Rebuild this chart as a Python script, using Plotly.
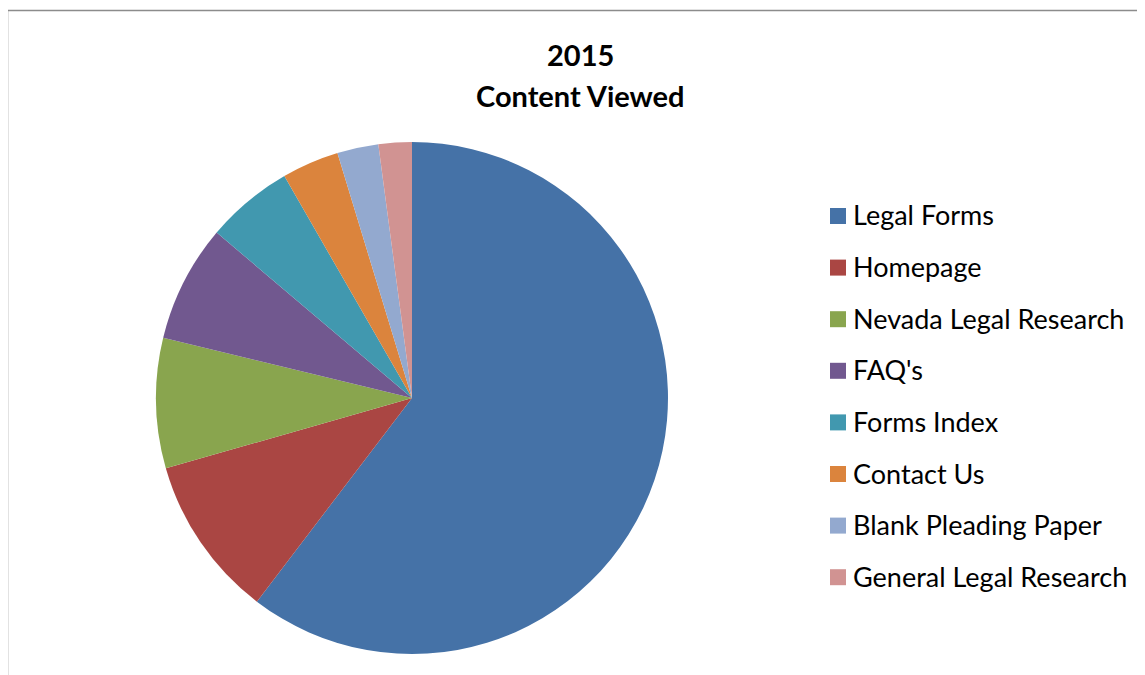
import plotly.graph_objects as go

W, H = 1145, 675
OFF = 8  # page body margin offset

categories = ["Legal Forms", "Homepage", "Nevada Legal Research", "FAQ's",
              "Forms Index", "Contact Us", "Blank Pleading Paper", "General Legal Research"]
values = [60.3, 10.2, 8.2, 7.4, 5.5, 3.6, 2.6, 2.1]
colors = ["#4572A7", "#AA4643", "#89A54E", "#71588F",
          "#4198AF", "#DB843D", "#93A9CF", "#D19392"]
title_lines = ["2015", "Content Viewed"]

FONT = "Lato"

def px(x):
    return (x - OFF) / W

def py(y):
    return (H - (y - OFF)) / H

cx, cy, r = 412, 398, 256

fig = go.Figure()
fig.add_trace(go.Pie(
    labels=categories,
    values=values,
    sort=False,
    direction="clockwise",
    rotation=0,
    marker=dict(colors=colors, line=dict(width=0)),
    textinfo="none",
    hoverinfo="label+value",
    showlegend=False,
    domain=dict(x=[px(cx - r), px(cx + r)], y=[py(cy + r), py(cy - r)]),
))

annotations = []
shapes = []

# Title
for text, yc in zip(title_lines, [54, 96]):
    annotations.append(dict(
        text="<b>" + text + "</b>", x=px(580), y=py(yc), xref="paper", yref="paper",
        xanchor="center", yanchor="middle", showarrow=False,
        font=dict(family=FONT, size=29, color="#000000"),
    ))

# Legend
y0, dy = 216, 51.6
for i, (lab, col) in enumerate(zip(categories, colors)):
    yc = y0 + i * dy
    shapes.append(dict(type="rect", xref="paper", yref="paper",
                       x0=px(830), x1=px(846), y0=py(yc + 8), y1=py(yc - 8),
                       fillcolor=col, line=dict(width=0)))
    annotations.append(dict(
        text=lab, x=px(851), y=py(yc - 1), xref="paper", yref="paper",
        xanchor="left", yanchor="middle", showarrow=False,
        font=dict(family=FONT, size=27, color="#000000"),
    ))

# Chart-area border
shapes.append(dict(type="path", xref="paper", yref="paper",
                   path=f"M {px(7.5)},{py(680)} L {px(7.5)},{py(10.5)} L {px(1160)},{py(10.5)}",
                   line=dict(color="#8c8c8c", width=1.5)))

fig.update_layout(
    width=W, height=H,
    margin=dict(l=0, r=0, t=0, b=0),
    paper_bgcolor="white", plot_bgcolor="white",
    annotations=annotations, shapes=shapes,
    showlegend=False,
)

fig.write_html("out.html")
